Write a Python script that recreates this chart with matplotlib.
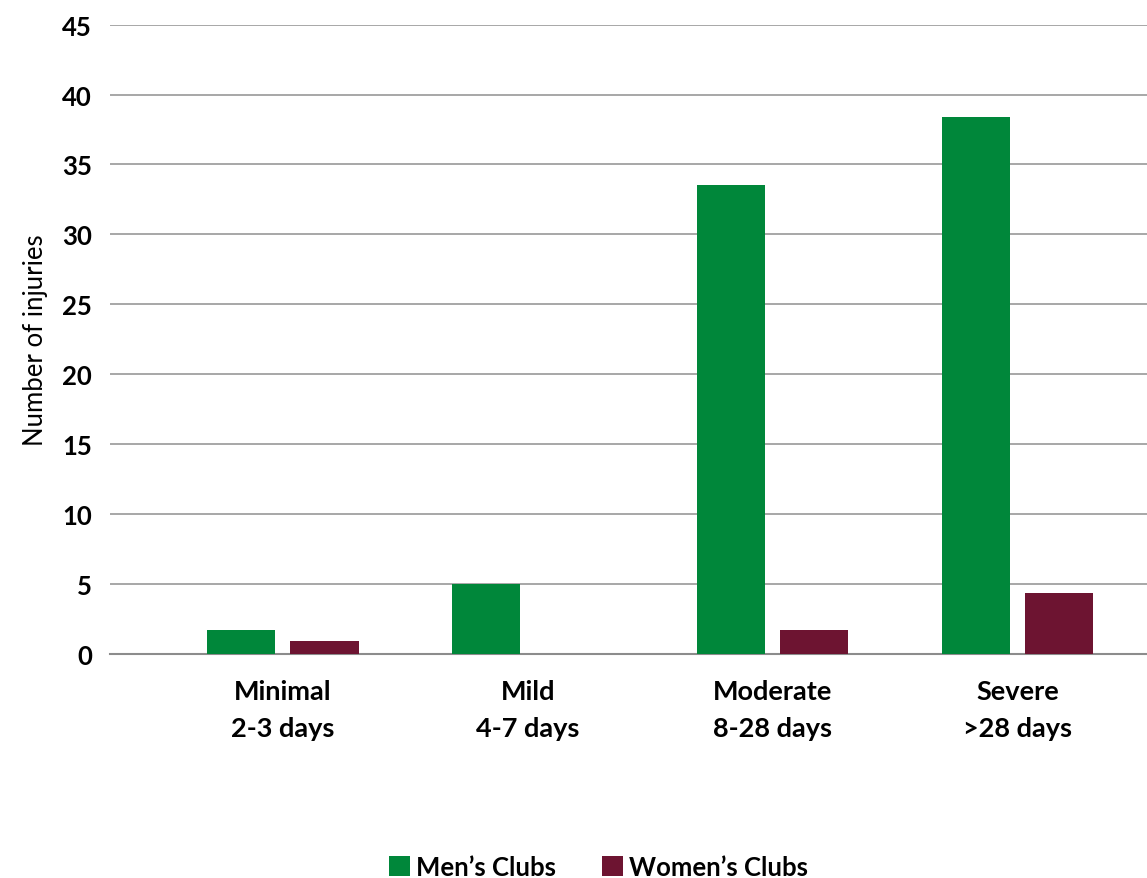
import numpy as np
import matplotlib.pyplot as plt

plt.rcParams['font.family'] = ['Lato', 'DejaVu Sans']

categories = ['Minimal\n2-3 days', 'Mild\n4-7 days', 'Moderate\n8-28 days', 'Severe\n>28 days']
mens_clubs = [1.7, 5.0, 33.5, 38.4]
womens_clubs = [0.9, 0.0, 1.7, 4.3]
yticks = [0, 5, 10, 15, 20, 25, 30, 35, 40, 45]

green = '#00873a'
maroon = '#6d1431'

fig = plt.figure(figsize=(11.47, 8.79), dpi=100)
ax = fig.add_axes([0.0959, 0.2554, 0.9041, 0.7154])

x = np.arange(len(categories))
width = 0.278
gap = 0.061
ax.bar(x - (width + gap) / 2, mens_clubs, width, color=green, label='Men\u2019s Clubs', zorder=3)
ax.bar(x + (width + gap) / 2, womens_clubs, width, color=maroon, label='Women\u2019s Clubs', zorder=3)

ax.set_xlim(-0.706, 3.527)
ax.set_ylim(0, 45)
ax.set_yticks(yticks)
ax.set_xticks(x, categories)
ax.tick_params(axis='y', length=0, pad=13, labelsize=18.5)
ax.tick_params(axis='x', length=0, pad=18, labelsize=19.5)
for lab in ax.get_xticklabels() + ax.get_yticklabels():
    lab.set_fontweight('bold')
for lab in ax.get_xticklabels():
    lab.set_linespacing(1.65)

ax.yaxis.grid(True, color='#a0a0a0', linewidth=1.3, zorder=0)
for s in ['top', 'right', 'left']:
    ax.spines[s].set_visible(False)
ax.spines['bottom'].set_color('#8c8c8c')
ax.spines['bottom'].set_linewidth(1.5)

ax.set_ylabel('Number of injuries', fontsize=18.5, labelpad=10)

fig.legend(loc='lower center', bbox_to_anchor=(0.522, -0.027), ncol=2, frameon=False,
           prop={'size': 18.5, 'weight': 'bold'}, handlelength=0.8, handleheight=0.8,
           handletextpad=0.25, columnspacing=1.8)

plt.savefig('out.png', dpi=100)
